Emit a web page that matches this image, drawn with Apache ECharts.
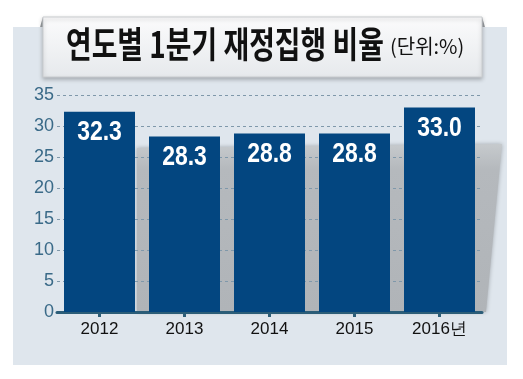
<!DOCTYPE html>
<html>
<head>
<meta charset="utf-8">
<script src="https://cdn.jsdelivr.net/npm/echarts@6/dist/echarts.min.js"></script>
<style>
html,body{margin:0;padding:0;background:#ffffff;}
#c{width:523px;height:379px;}
</style>
</head>
<body>
<div id="c"></div>
<script>
var categories = ['2012', '2013', '2014', '2015', '2016년'];
var values = [32.3, 28.3, 28.8, 28.8, 33.0];
var yTicks = [0, 5, 10, 15, 20, 25, 30, 35];
var titleMain = '연도별 1분기 재정집행 비율';
var titleUnit = '(단위:%)';

var SANS = '"Liberation Sans", Arial, sans-serif';
var KR = '"Noto Sans CJK KR", sans-serif';
var chart = echarts.init(document.getElementById('c'));
chart.setOption({
  animation: false,
  backgroundColor: '#ffffff',
  grid: { left: 57, right: 41, top: 95, bottom: 67, containLabel: false },
  xAxis: {
    type: 'category',
    data: categories,
    axisLine: { show: true, lineStyle: { color: '#2b5d78', width: 3 } },
    axisTick: { show: true, alignWithLabel: true, length: 5, lineStyle: { color: '#2b5d78', width: 3 } },
    axisLabel: { color: '#111111', fontFamily: SANS, fontSize: 17, margin: 9 }
  },
  yAxis: {
    type: 'value',
    min: yTicks[0],
    max: yTicks[yTicks.length - 1],
    interval: 5,
    axisLine: { show: false },
    axisTick: { show: false },
    axisLabel: { color: '#3a6a88', fontFamily: SANS, fontSize: 18, margin: 3 },
    splitLine: { show: true, lineStyle: { color: '#7f98aa', type: [3, 3], width: 1 } }
  },
  graphic: [
    { type: 'rect', z: -10, shape: { x: 13, y: 27, width: 494, height: 338 }, style: { fill: '#dfe6ed' } },
    { type: 'polygon', z: -5,
      shape: { points: [[137, 148], [502, 144], [486, 312], [137, 312]] },
      style: { fill: new echarts.graphic.LinearGradient(0, 0, 0, 1, [
        { offset: 0, color: '#c6cacd' }, { offset: 0.15, color: '#b5b9bd' }, { offset: 1, color: '#b0b4b8' }]),
        shadowBlur: 4, shadowColor: 'rgba(120,125,130,0.6)' } },
    { type: 'polygon', z: -4, shape: { points: [[40, 27], [43, 17], [45, 27]] }, style: { fill: '#9a9ea2' } },
    { type: 'polygon', z: -4, shape: { points: [[480, 27], [482, 17], [485, 27]] }, style: { fill: '#9a9ea2' } },
    { type: 'rect', z: -3, shape: { x: 43, y: 17, width: 439, height: 60 },
      style: { fill: new echarts.graphic.LinearGradient(0, 0, 0, 1, [
        { offset: 0, color: '#fbfbfc' }, { offset: 1, color: '#e6e9ec' }]),
        stroke: '#c9cccf', lineWidth: 1, shadowBlur: 4, shadowOffsetY: 2, shadowColor: 'rgba(0,0,0,0.25)' } },
    { type: 'text', z: 10, x: 66, y: 44, scaleX: 0.775, scaleY: 1,
      style: { text: titleMain, fontFamily: KR, fontWeight: 'bold', fontSize: 36,
        fill: '#111111', verticalAlign: 'middle', align: 'left' } },
    { type: 'text', z: 10, x: 390, y: 46, scaleX: 1,
      style: { text: titleUnit, fontFamily: KR, fontWeight: 'normal', fontSize: 20,
        fill: '#111111', verticalAlign: 'middle', align: 'left' } }
  ],
  series: [{
    type: 'bar',
    data: values,
    barWidth: 71,
    itemStyle: { color: '#034680' },
    z: 2
  }, {
    type: 'custom',
    z: 5,
    data: values.map(function (v, i) { return [i, v]; }),
    encode: { x: 0, y: 1 },
    renderItem: function (params, api) {
      var pt = api.coord([api.value(0), api.value(1)]);
      return {
        type: 'text',
        x: pt[0], y: pt[1] + 7, scaleX: 0.82,
        style: {
          text: api.value(1).toFixed(1),
          fontFamily: SANS, fontWeight: 'bold', fontSize: 28,
          fill: '#ffffff', align: 'center', verticalAlign: 'top'
        }
      };
    }
  }]
});
</script>
</body>
</html>
